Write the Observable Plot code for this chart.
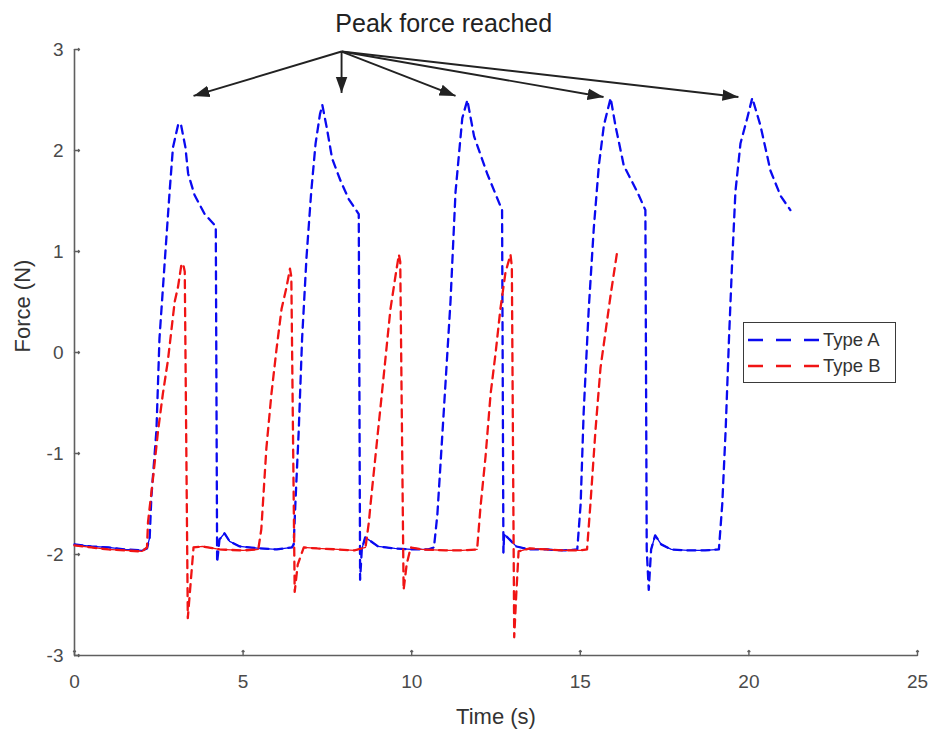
<!DOCTYPE html>
<html>
<head>
<meta charset="utf-8">
<script src="https://cdn.jsdelivr.net/npm/d3@7"></script>
<script src="https://cdn.jsdelivr.net/npm/@observablehq/plot@0.6"></script>
<style>
  body { margin: 0; background: #fff; }
  #wrap { position: relative; width: 933px; height: 731px; font-family: "Liberation Sans", Arial, sans-serif; }
  #legend { position: absolute; left: 743px; top: 322px; width: 151px; height: 59px; border: 1.6px solid #3a3a3a; background: #fff; }
  #legend .row { position: absolute; left: 4px; height: 24px; display: flex; align-items: center; font-size: 18.5px; color: #333; }
  #legend svg { display: block; margin-right: 2px; }
</style>
</head>
<body>
<div id="wrap"></div>
<script>
// ---- data ----
const typeATime = [0, 0.5, 1.0, 1.5, 2.0, 2.15, 2.23, 2.28, 2.43, 2.52, 2.67, 2.82, 2.92, 3.07, 3.15, 3.29, 3.37, 3.56, 3.86, 4.19, 4.23, 4.30, 4.45, 4.6, 4.9, 5.5, 6.0, 6.45, 6.50, 6.55, 6.65, 6.75, 6.88, 7.02, 7.15, 7.28, 7.35, 7.49, 7.64, 7.89, 8.13, 8.43, 8.47, 8.52, 8.62, 8.75, 9.0, 9.5, 10.0, 10.5, 10.66, 10.76, 10.95, 11.15, 11.30, 11.50, 11.65, 11.85, 12.24, 12.68, 12.72, 12.74, 12.9, 13.1, 13.5, 14.0, 14.5, 14.91, 15.01, 15.10, 15.25, 15.40, 15.55, 15.70, 15.90, 16.04, 16.29, 16.69, 16.93, 16.97, 17.03, 17.10, 17.22, 17.4, 17.7, 18.2, 18.7, 19.11, 19.21, 19.31, 19.41, 19.50, 19.60, 19.75, 19.95, 20.10, 20.34, 20.64, 20.94, 21.23];
const typeAForce = [-1.90, -1.92, -1.93, -1.95, -1.96, -1.94, -1.83, -1.43, -0.77, 0.14, 0.87, 1.59, 2.03, 2.25, 2.27, 2.03, 1.77, 1.56, 1.37, 1.25, -2.08, -1.85, -1.79, -1.87, -1.92, -1.94, -1.95, -1.93, -1.90, -1.50, -0.77, 0.14, 0.94, 1.59, 2.07, 2.36, 2.45, 2.21, 1.92, 1.70, 1.52, 1.37, -2.25, -1.95, -1.83, -1.86, -1.92, -1.94, -1.95, -1.95, -1.93, -1.61, -0.59, 0.50, 1.59, 2.32, 2.50, 2.14, 1.77, 1.41, -1.98, -1.80, -1.85, -1.92, -1.95, -1.95, -1.96, -1.95, -1.50, -0.59, 0.43, 1.23, 1.85, 2.25, 2.52, 2.25, 1.85, 1.59, 1.41, -1.95, -2.35, -1.95, -1.81, -1.90, -1.95, -1.96, -1.96, -1.95, -1.50, -0.77, 0.14, 0.87, 1.59, 2.07, 2.32, 2.52, 2.25, 1.80, 1.55, 1.41];
const typeBTime = [0, 0.5, 1.0, 1.5, 2.0, 2.15, 2.18, 2.33, 2.48, 2.62, 2.77, 2.87, 2.97, 3.07, 3.17, 3.22, 3.27, 3.36, 3.44, 3.53, 3.8, 4.3, 5.0, 5.45, 5.54, 5.69, 5.84, 5.99, 6.14, 6.29, 6.39, 6.43, 6.53, 6.62, 6.80, 7.2, 7.8, 8.3, 8.63, 8.73, 8.78, 8.97, 9.17, 9.37, 9.52, 9.62, 9.66, 9.76, 9.85, 9.97, 10.3, 11.0, 11.5, 11.94, 12.04, 12.19, 12.34, 12.49, 12.63, 12.78, 12.93, 12.97, 13.04, 13.10, 13.17, 13.5, 14.0, 14.5, 15.0, 15.2, 15.30, 15.45, 15.60, 15.75, 15.90, 16.09];
const typeBForce = [-1.91, -1.93, -1.95, -1.96, -1.97, -1.93, -1.68, -1.24, -0.77, -0.41, -0.08, 0.21, 0.50, 0.65, 0.87, 0.88, 0.80, -2.63, -2.30, -1.93, -1.92, -1.95, -1.96, -1.95, -1.75, -0.95, -0.41, 0.03, 0.43, 0.65, 0.83, 0.75, -2.37, -2.10, -1.93, -1.94, -1.95, -1.96, -1.93, -1.68, -1.50, -0.88, -0.23, 0.43, 0.76, 0.97, 0.90, -2.35, -2.10, -1.93, -1.95, -1.96, -1.96, -1.95, -1.53, -1.03, -0.41, 0.00, 0.43, 0.79, 0.97, 0.85, -2.82, -2.40, -1.97, -1.94, -1.95, -1.96, -1.96, -1.95, -1.50, -0.77, -0.15, 0.21, 0.57, 0.99];

const xTicks = [0, 5, 10, 15, 20, 25];
const yTicks = [-3, -2, -1, 0, 1, 2, 3];
const seriesNames = ["Type A", "Type B"];
const seriesColors = ["#0a0af0", "#f01414"];

// annotation: "Peak force reached" with arrows from a common origin to each peak
const annotationText = "Peak force reached";
const annotationTextT = 10.95;
const arrowOrigin = { t: 7.92, F: 2.98 };
const arrowTargetT = [3.53, 7.92, 11.30, 15.69, 19.69];
const arrowTargetF = [2.54, 2.57, 2.54, 2.53, 2.53];

// ---- tables ----
const dataA = typeATime.map((t, i) => ({ t, F: typeAForce[i] }));
const dataB = typeBTime.map((t, i) => ({ t, F: typeBForce[i] }));
const arrows = arrowTargetT.map((t, i) => ({ t1: arrowOrigin.t, F1: arrowOrigin.F, t2: t, F2: arrowTargetF[i] }));

// the noisy flat baseline renders as a near-solid thin line in the original
const baseline = d => (d.F > -2.03 && d.F < -1.78) ? d.F : NaN;

function filledArrow(color, context) {
  const m = d3.create("svg:marker")
    .attr("viewBox", "0 -5 10 10")
    .attr("refX", 10)
    .attr("refY", 0)
    .attr("markerWidth", 16)
    .attr("markerHeight", 16)
    .attr("markerUnits", "userSpaceOnUse")
    .attr("orient", "auto");
  m.append("path").attr("d", "M0,-3.6L10,0L0,3.6Z").attr("fill", color).attr("stroke", "none");
  return m.node();
}

const axisColor = "#5f5f5f";
const tickColor = "#4a4a4a";
const yMin = yTicks[0], xMin = xTicks[0];

const chart = Plot.plot({
  width: 933,
  height: 731,
  marginLeft: 74,
  marginRight: 16,
  marginTop: 49,
  marginBottom: 76,
  style: { fontFamily: "'Liberation Sans', Arial, sans-serif", background: "#fff", overflow: "visible" },
  x: { domain: [0, 25] },
  y: { domain: [-3, 3] },
  marks: [
    Plot.ruleY([yMin], { stroke: axisColor, strokeWidth: 1.6 }),
    Plot.ruleX([xMin], { stroke: axisColor, strokeWidth: 1.6 }),
    // inward ticks
    Plot.vector(xTicks, { x: d => d, y: yMin, length: 5, rotate: 0, anchor: "start", stroke: axisColor, strokeWidth: 1.4 }),
    Plot.vector(yTicks, { x: xMin, y: d => d, length: 5, rotate: 90, anchor: "start", stroke: axisColor, strokeWidth: 1.4 }),
    Plot.axisX(xTicks, { tickSize: 0, tickPadding: 19, fill: tickColor, fontSize: 19, tickFormat: d => String(d), label: null }),
    Plot.axisY(yTicks, { tickSize: 0, tickPadding: 11, fill: tickColor, fontSize: 19, tickFormat: d => String(d), label: null }),
    Plot.text(["Time (s)"], { frameAnchor: "bottom", dy: 61, fontSize: 22, fill: "#333", lineAnchor: "middle" }),
    Plot.text(["Force (N)"], { frameAnchor: "left", dx: -52, rotate: -90, fontSize: 22, fill: "#333", lineAnchor: "middle" }),
    // series
    Plot.line(dataA, { x: "t", y: "F", stroke: seriesColors[0], strokeWidth: 2.3, strokeDasharray: "8,6" }),
    Plot.line(dataA, { x: "t", y: baseline, stroke: seriesColors[0], strokeWidth: 1.3 }),
    Plot.line(dataB, { x: "t", y: "F", stroke: seriesColors[1], strokeWidth: 2.3, strokeDasharray: "8,6" }),
    Plot.line(dataB, { x: "t", y: baseline, stroke: seriesColors[1], strokeWidth: 1.3 }),
    // annotation
    Plot.link(arrows, { x1: "t1", y1: "F1", x2: "t2", y2: "F2", stroke: "#222", strokeWidth: 1.9, markerEnd: filledArrow }),
    Plot.text([annotationText], { x: [annotationTextT], frameAnchor: "top", dy: -26, fontSize: 25, fill: "#222", lineAnchor: "middle", letterSpacing: 0.3 })
  ]
});

const wrap = document.getElementById("wrap");
wrap.appendChild(chart);

// legend (inside the axes, boxed)
const legend = document.createElement("div");
legend.id = "legend";
seriesNames.forEach((name, i) => {
  const row = document.createElement("div");
  row.className = "row";
  row.style.top = (i === 0 ? 5 : 31) + "px";
  row.innerHTML = `<svg width="73" height="10"><line x1="0" y1="5" x2="73" y2="5" stroke="${seriesColors[i]}" stroke-width="2.6" stroke-dasharray="15,13"/></svg><span>${name}</span>`;
  legend.appendChild(row);
});
wrap.appendChild(legend);
</script>
</body>
</html>
